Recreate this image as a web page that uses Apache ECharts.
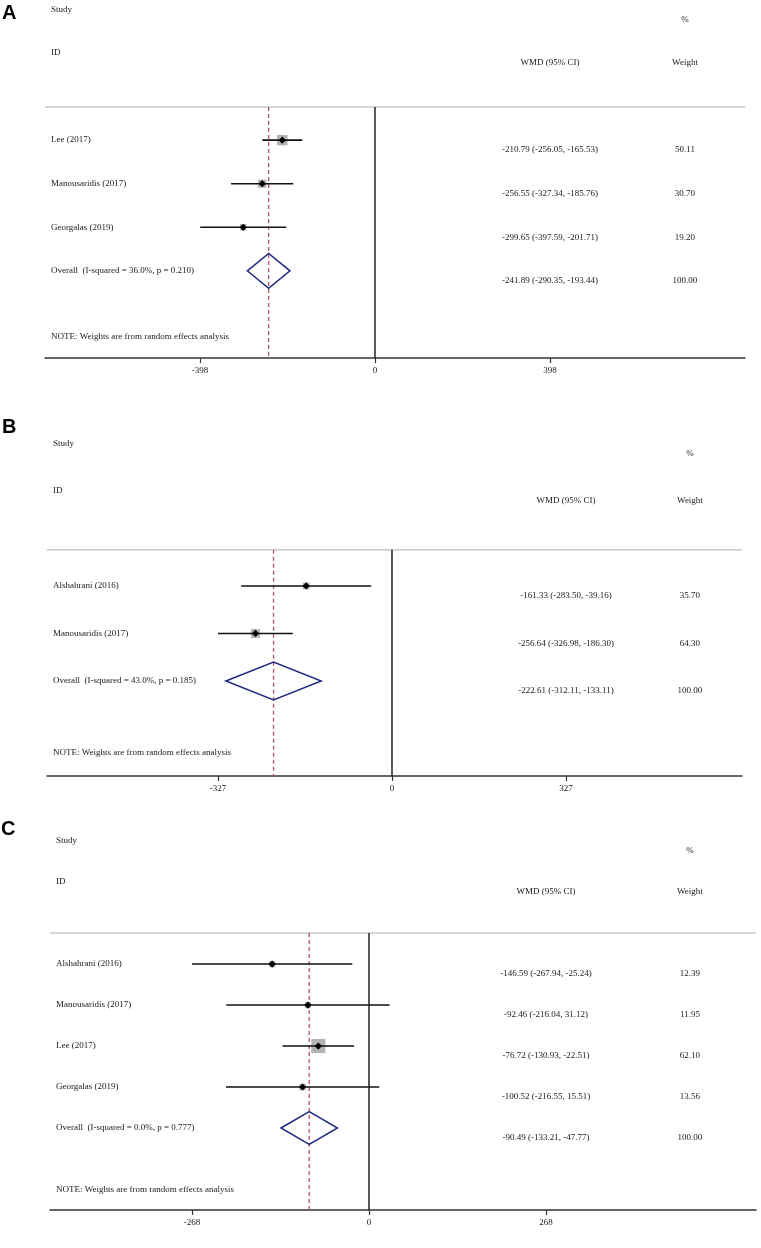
<!DOCTYPE html>
<html>
<head>
<meta charset="utf-8">
<title>Forest plots</title>
<script src="https://cdn.jsdelivr.net/npm/echarts@6/dist/echarts.min.js"></script>
<style>
html, body { margin: 0; padding: 0; background: #fff; }
#forest { width: 761px; height: 1248px; }
</style>
</head>
<body>
<div id="forest"></div>
<script>
// A
var studiesA = ['Lee (2017)', 'Manousaridis (2017)', 'Georgalas (2019)'];
var wmdA = [-210.79, -256.55, -299.65];
var lowA = [-256.05, -327.34, -397.59];
var highA = [-165.53, -185.76, -201.71];
var weightA = [50.11, 30.70, 19.20];
var overallA = [-241.89, -290.35, -193.44];
var hetA = ['36.0%', '0.210'];
var ticksA = [-398, 0, 398];

// B
var studiesB = ['Alshahrani (2016)', 'Manousaridis (2017)'];
var wmdB = [-161.33, -256.64];
var lowB = [-283.50, -326.98];
var highB = [-39.16, -186.30];
var weightB = [35.70, 64.30];
var overallB = [-222.61, -312.11, -133.11];
var hetB = ['43.0%', '0.185'];
var ticksB = [-327, 0, 327];

// C
var studiesC = ['Alshahrani (2016)', 'Manousaridis (2017)', 'Lee (2017)', 'Georgalas (2019)'];
var wmdC = [-146.59, -92.46, -76.72, -100.52];
var lowC = [-267.94, -216.04, -130.93, -216.55];
var highC = [-25.24, 31.12, -22.51, 15.51];
var weightC = [12.39, 11.95, 62.10, 13.56];
var overallC = [-90.49, -133.21, -47.77];
var hetC = ['0.0%', '0.777'];
var ticksC = [-268, 0, 268];

var serif = '"Liberation Serif", "DejaVu Serif", serif';
var textColor = '#1a1a1a';

var panels = [
    {letter: 'A', studies: studiesA, wmd: wmdA, low: lowA, high: highA, weight: weightA,
     overall: overallA, het: hetA, ticks: ticksA,
     top: 2, height: 356, left: 45, right: 16, xMin: -750.5, xMax: 841.5, yMin: -3.17,
     box: 1.48, wtGap: 135, letterLeft: 2, letterTop: 3},
    {letter: 'B', studies: studiesB, wmd: wmdB, low: lowB, high: highB, weight: weightB,
     overall: overallB, het: hetB, ticks: ticksB,
     top: 432, height: 344, left: 47, right: 19, xMin: -648.4, xMax: 657.8, yMin: -3.24,
     box: 1.12, wtGap: 124, letterLeft: 2, letterTop: 417},
    {letter: 'C', studies: studiesC, wmd: wmdC, low: lowC, high: highC, weight: weightC,
     overall: overallC, het: hetC, ticks: ticksC,
     top: 830, height: 380, left: 50, right: 5, xMin: -483, xMax: 586, yMin: -3.27,
     box: 1.78, wtGap: 144, letterLeft: 1, letterTop: 819}
];

var forest = echarts.init(document.getElementById('forest'));

var grids = [], xAxes = [], yAxes = [], titles = [], series = [];

panels.forEach(function (p, i) {
    var n = p.studies.length;
    var axisRow = n + 2;
    var ruleRow = -0.76;

    grids.push({left: p.left, right: p.right, top: p.top, height: p.height});
    titles.push({
        text: p.letter, left: p.letterLeft, top: p.letterTop, padding: 0,
        textStyle: {fontFamily: '"Liberation Sans", Arial, sans-serif', fontSize: 20, fontWeight: 'bold', color: '#000'}
    });
    xAxes.push({
        type: 'value', gridIndex: i, min: p.xMin, max: p.xMax, position: 'bottom',
        splitLine: {show: false},
        axisLine: {show: true, onZero: false, lineStyle: {color: '#333', width: 1.5}},
        axisTick: {show: true, customValues: p.ticks, length: 5, lineStyle: {color: '#333', width: 1.2}},
        axisLabel: {customValues: p.ticks, margin: 8, fontFamily: serif, fontSize: 9, color: textColor}
    });
    yAxes.push({type: 'value', gridIndex: i, inverse: true, min: p.yMin, max: axisRow, show: false});

    // horizontal rule under the header
    series.push({
        type: 'custom', xAxisIndex: i, yAxisIndex: i, silent: true,
        data: [[p.xMin, ruleRow, p.xMax]],
        renderItem: function (params, api) {
            var a = api.coord([api.value(0), api.value(1)]);
            var b = api.coord([api.value(2), api.value(1)]);
            return {type: 'line', shape: {x1: a[0], y1: a[1], x2: b[0], y2: b[1]},
                    style: {stroke: '#c9c9c9', lineWidth: 1.5}};
        }
    });

    // null line and overall estimate line
    series.push({
        type: 'custom', xAxisIndex: i, yAxisIndex: i, silent: true,
        data: [[0, ruleRow, axisRow, 0], [p.overall[0], ruleRow, axisRow, 1]],
        renderItem: function (params, api) {
            var a = api.coord([api.value(0), api.value(1)]);
            var b = api.coord([api.value(0), api.value(2)]);
            var dashed = api.value(3) === 1;
            return {type: 'line', shape: {x1: a[0], y1: a[1], x2: b[0], y2: b[1]},
                    style: dashed ? {stroke: '#b5566a', lineWidth: 1.3, lineDash: [4, 3]}
                                  : {stroke: '#222', lineWidth: 1.5}};
        }
    });

    // study estimates with CI
    var box = p.box;
    series.push({
        type: 'custom', xAxisIndex: i, yAxisIndex: i, silent: true,
        data: p.studies.map(function (s, k) { return [p.wmd[k], k, p.low[k], p.high[k], p.weight[k]]; }),
        renderItem: function (params, api) {
            var row = api.value(1);
            var mid = api.coord([api.value(0), row]);
            var lo = api.coord([api.value(2), row]);
            var hi = api.coord([api.value(3), row]);
            var side = Math.sqrt(api.value(4)) * box;
            var d = 3.6;
            return {type: 'group', children: [
                {type: 'rect', shape: {x: mid[0] - side / 2, y: mid[1] - side / 2, width: side, height: side},
                 style: {fill: '#b3b3b3'}},
                {type: 'line', shape: {x1: lo[0], y1: lo[1], x2: hi[0], y2: hi[1]},
                 style: {stroke: '#111', lineWidth: 1.6}},
                {type: 'polygon', shape: {points: [[mid[0] - d, mid[1]], [mid[0], mid[1] - d], [mid[0] + d, mid[1]], [mid[0], mid[1] + d]]},
                 style: {fill: '#000'}}
            ]};
        }
    });

    // pooled diamond
    series.push({
        type: 'custom', xAxisIndex: i, yAxisIndex: i, silent: true,
        data: [[p.overall[0], n, p.overall[1], p.overall[2]]],
        renderItem: function (params, api) {
            var row = api.value(1), est = api.value(0);
            var pts = [
                api.coord([api.value(2), row]),
                api.coord([est, row - 0.4]),
                api.coord([api.value(3), row]),
                api.coord([est, row + 0.4])
            ];
            return {type: 'polygon', shape: {points: pts},
                    style: {fill: 'none', stroke: '#1f2a80', lineWidth: 1.5}};
        }
    });

    // text table
    var items = [
        {text: 'Study', col: 'left', row: -3},
        {text: 'ID', col: 'left', row: -2},
        {text: '%', col: 'wt', row: -3},
        {text: 'WMD (95% CI)', col: 'wmd', row: -2},
        {text: 'Weight', col: 'wt', row: -2}
    ];
    p.studies.forEach(function (s, k) {
        items.push({text: s, col: 'left', row: k});
        items.push({text: p.wmd[k].toFixed(2) + ' (' + p.low[k].toFixed(2) + ', ' + p.high[k].toFixed(2) + ')', col: 'wmd', row: k});
        items.push({text: p.weight[k].toFixed(2), col: 'wt', row: k});
    });
    items.push({text: 'Overall  (I-squared = ' + p.het[0] + ', p = ' + p.het[1] + ')', col: 'left', row: n});
    items.push({text: p.overall[0].toFixed(2) + ' (' + p.overall[1].toFixed(2) + ', ' + p.overall[2].toFixed(2) + ')', col: 'wmd', row: n});
    items.push({text: '100.00', col: 'wt', row: n});
    items.push({text: 'NOTE: Weights are from random effects analysis', col: 'left', row: n + 1.5});

    var tickR = p.ticks[2], gap = p.wtGap, xMin = p.xMin;
    series.push({
        type: 'custom', xAxisIndex: i, yAxisIndex: i, silent: true,
        data: items.map(function (t) { return [0, t.row]; }),
        renderItem: function (params, api) {
            var t = items[params.dataIndex];
            var y = api.coord([0, t.row])[1];
            var x, align = 'center';
            if (t.col === 'left') {
                x = api.coord([xMin, t.row])[0] + 6;
                align = 'left';
            } else {
                x = api.coord([tickR, t.row])[0] + (t.col === 'wt' ? gap : 0);
                y += 10;
            }
            return {type: 'text', x: x, y: y,
                    style: {text: t.text, fill: textColor, font: '9px ' + serif, align: align, verticalAlign: 'middle'}};
        }
    });
});

forest.setOption({
    animation: false,
    backgroundColor: '#fff',
    title: titles,
    grid: grids,
    xAxis: xAxes,
    yAxis: yAxes,
    series: series
});
</script>
</body>
</html>
